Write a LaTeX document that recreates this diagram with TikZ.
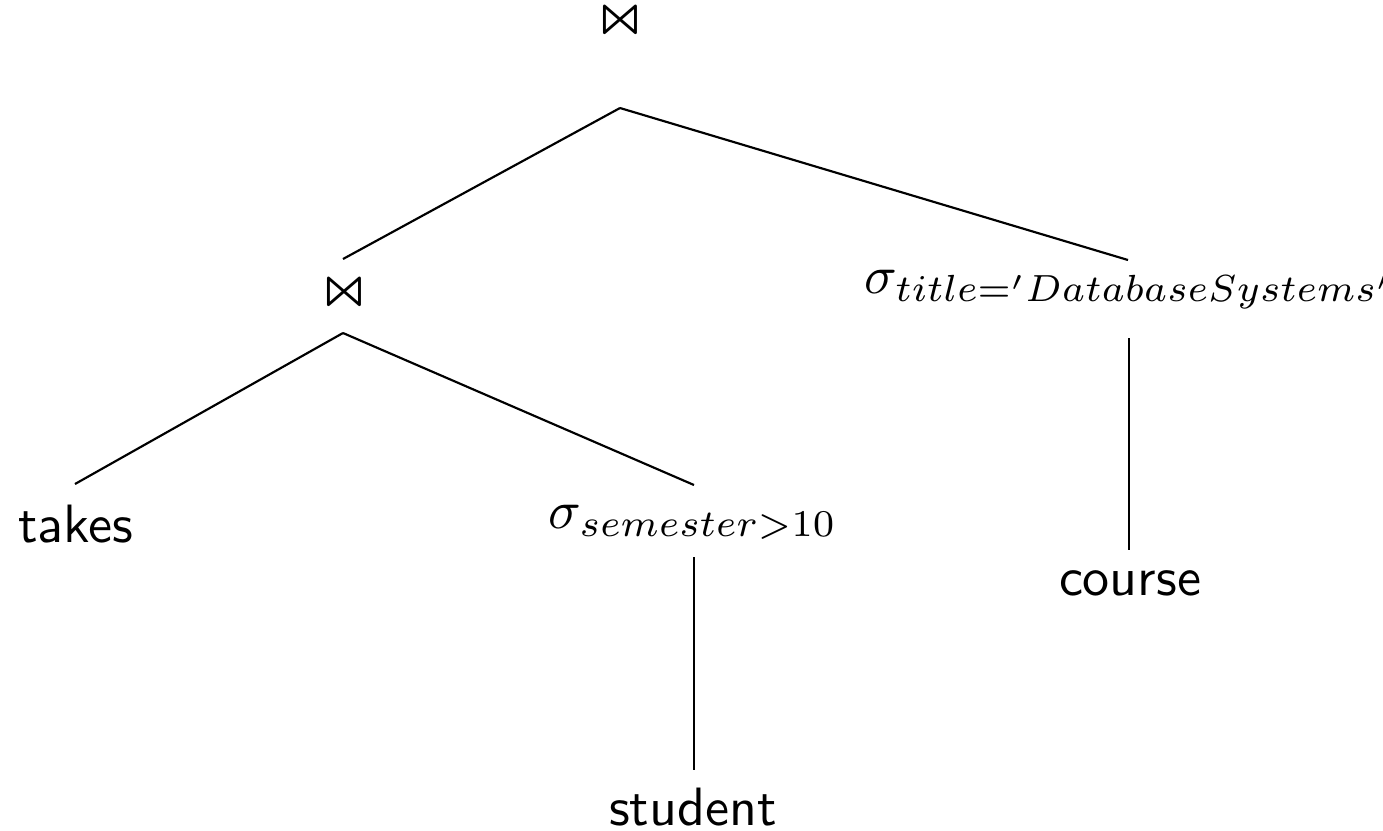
\documentclass[tikz,border=0pt]{standalone}
\usepackage{latexsym}
\usetikzlibrary{calc}
\begin{document}
\begin{tikzpicture}[x=0.1852pt,y=-0.1852pt,
  edge/.style={draw=black,line width=0.4pt},
  rel/.style={font=\sffamily,inner sep=0pt},
  op/.style={inner sep=0pt},
  joinop/.style={inner sep=0pt,scale=0.9,font=\boldmath}]
\useasboundingbox (0,0) rectangle (1383,830);
\node[joinop] (j1) at (620,25) {$\Join$};
\node[joinop] (j2) at (344,297) {$\Join$};
\node[op,anchor=base] (sel1) at (1129,293) {$\sigma_{title='DatabaseSystems'}$};
\node[rel,anchor=base] (takes) at (76,542) {takes};
\node[op,anchor=base] (sel2) at (693,528) {$\sigma_{semester>10}$};
\node[rel,anchor=base] (course) at (1130,595) {course};
\node[rel,anchor=base] (student) at (693,825) {student};
\draw[edge] ($(j1)+(0,83)$) -- ($(j2)+(-1,-38)$);
\draw[edge] ($(j1)+(0,83)$) -- ($(sel1.base)+(-1,-33)$);
\draw[edge] ($(j2)+(-1,36)$) -- ($(takes.base)+(-1,-58)$);
\draw[edge] ($(j2)+(-1,36)$) -- ($(sel2.base)+(1,-43)$);
\draw[edge] ($(sel1.base)+(0,45)$) -- ($(course.base)+(-1,-45)$);
\draw[edge] ($(sel2.base)+(1,29)$) -- ($(student.base)+(1,-55)$);
\end{tikzpicture}
\end{document}
